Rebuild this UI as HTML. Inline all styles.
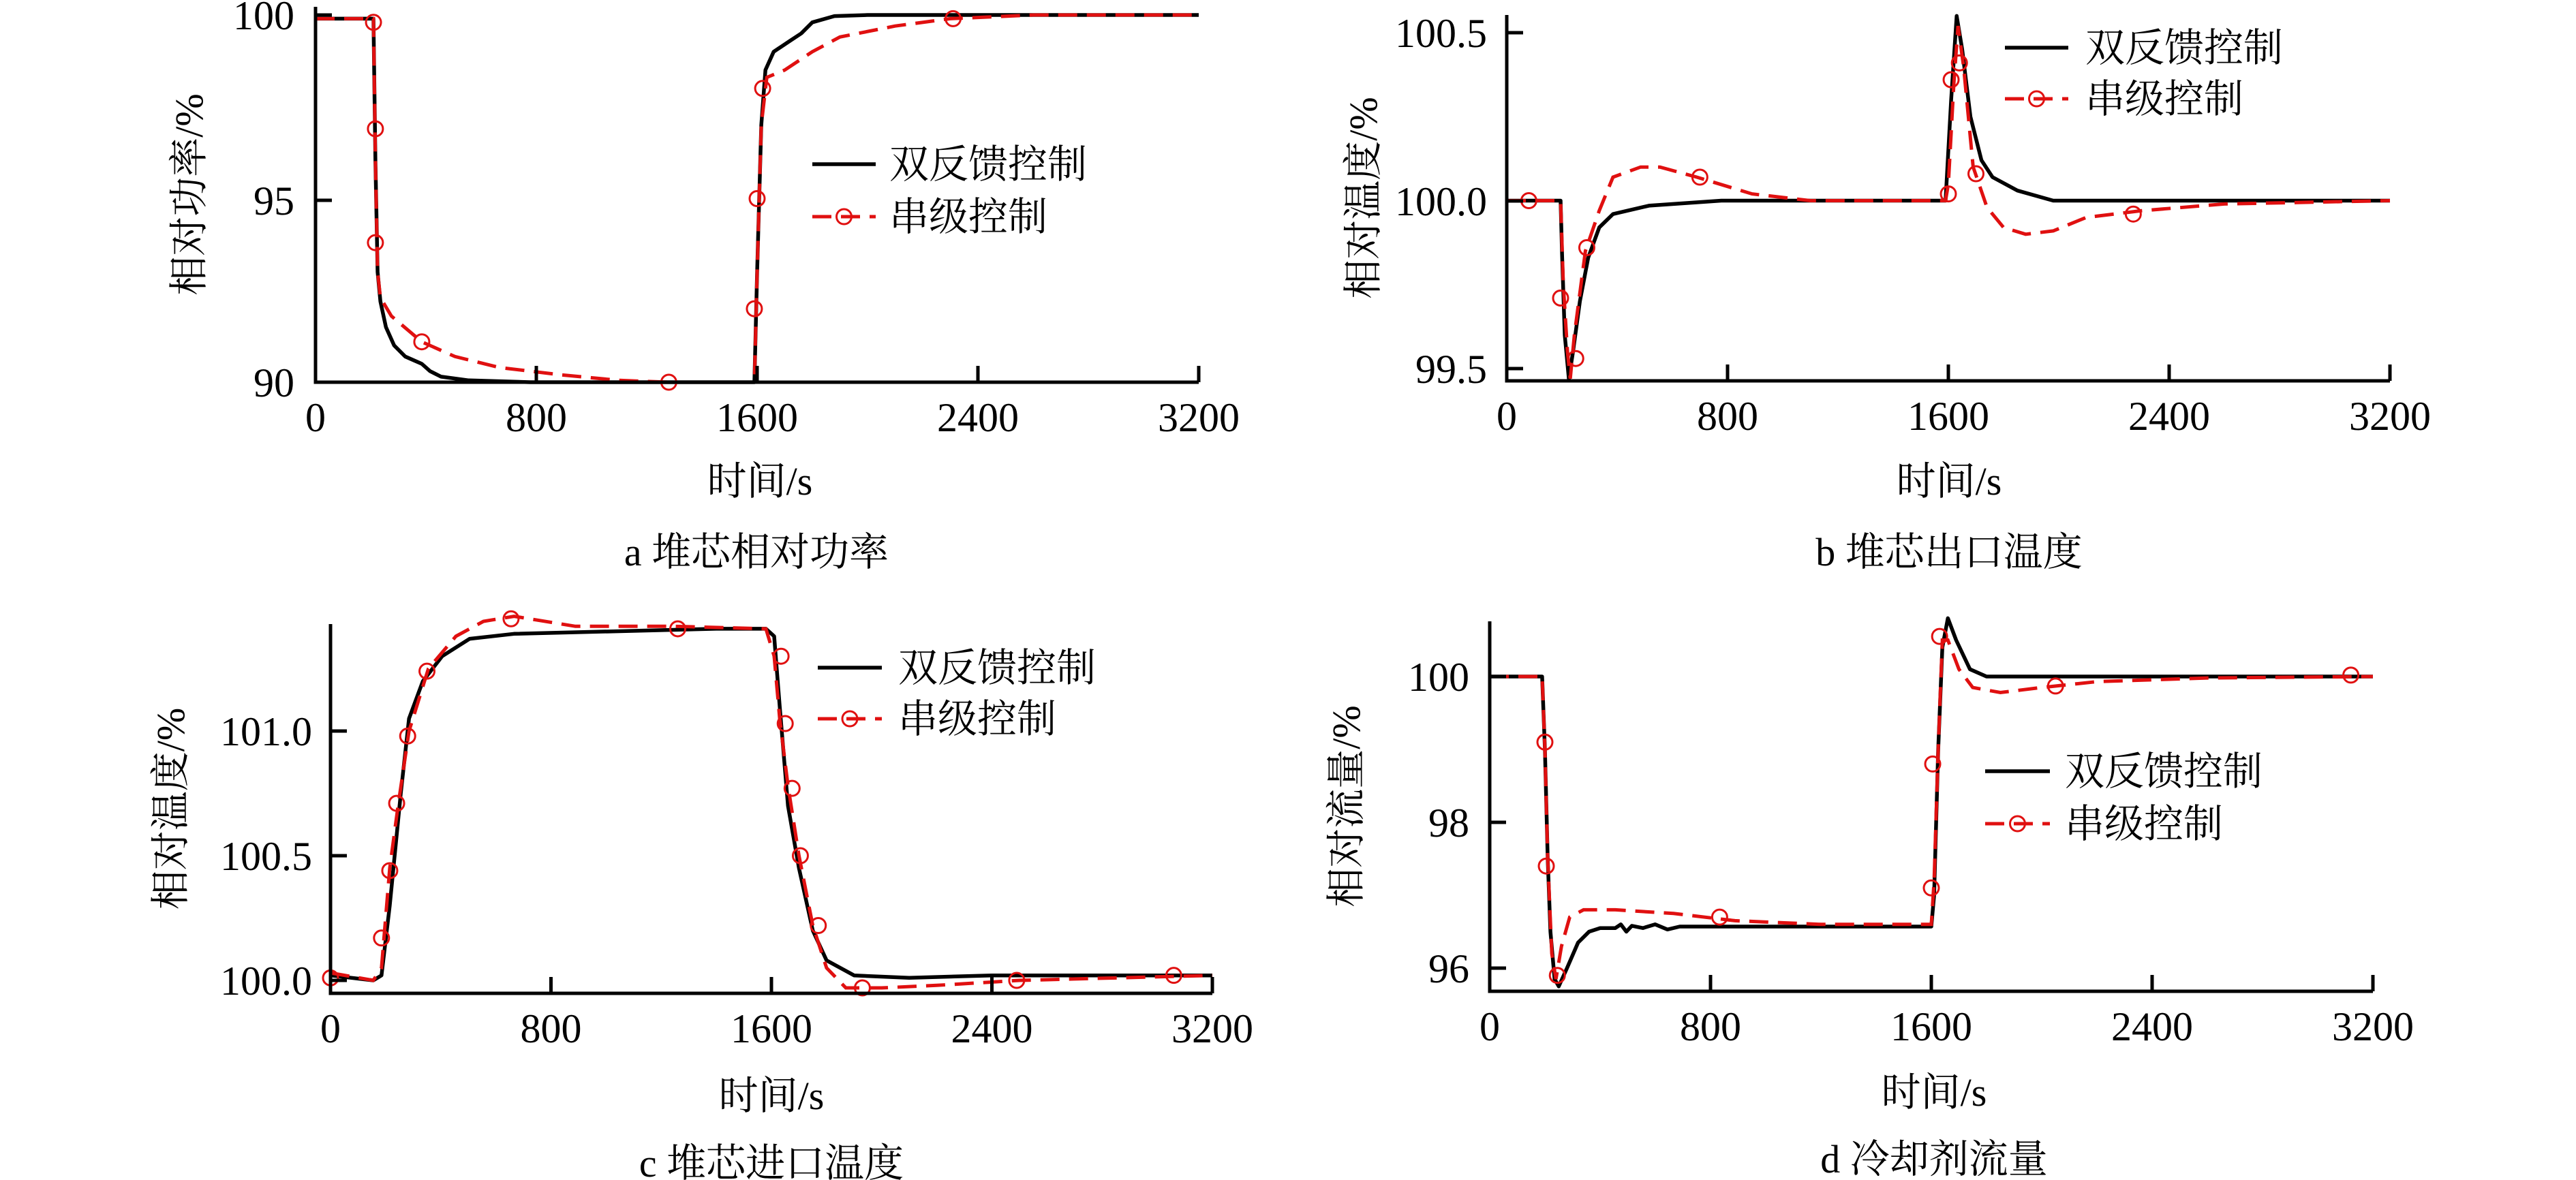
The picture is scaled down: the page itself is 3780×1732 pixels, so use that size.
<!DOCTYPE html>
<html><head><meta charset="utf-8"><style>
html,body{margin:0;padding:0;background:#fff;}
svg{display:block;}
text{font-family:"Liberation Serif","Noto Serif CJK SC","Noto Sans CJK SC",serif;fill:#000;}
</style></head><body>
<svg id="s" width="3780" height="1732" viewBox="0 0 3780 1732" xmlns="http://www.w3.org/2000/svg">
<rect width="3780" height="1732" fill="#fff"/>
</svg>
<script>
const S=document.getElementById('s');
const NS='http://www.w3.org/2000/svg';
function el(t,a,txt){const e=document.createElementNS(NS,t);for(const k in a)e.setAttribute(k,a[k]);if(txt!==undefined)e.textContent=txt;S.appendChild(e);return e;}
function sh(t){ if(t<=150||t>=1000) return t; if(t<=600) return t-45; return t-45*(1000-t)/400; }
const panels=[
{x0:463,x1:1759,yb:561,yt:10,ticks:[[100,22],[95,294],[90,561]],labels:['100','95','90'],lblEnd:432,ylab:'相对功率/%',ylx:277,xl:[1115,706],title:['a  堆芯相对功率',1110,810],leg:[1192,1285,241,318,1305],
black:[[0,99.9],[255,99.9],[262,96],[270,93],[280,92.2],[300,91.5],[330,91],[370,90.7],[400,90.6],[430,90.5],[460,90.3],[500,90.15],[600,90.05],[800,90],[1590,90],[1600,93],[1615,97],[1630,98.5],[1660,99.0],[1720,99.3],[1760,99.5],[1800,99.8],[1880,99.97],[2000,100],[3200,100]],
red:[[0,99.9],[255,99.9],[262,96],[270,93],[280,92.3],[320,91.8],[430,91.1],[550,90.7],[700,90.4],[900,90.2],[1100,90.05],[1280,90],[1590,90],[1600,93],[1615,97],[1635,98.3],[1700,98.5],[1800,99.0],[1900,99.4],[2100,99.7],[2300,99.9],[2600,100],[3200,100]],
mk:[[255,99.8],[262,96.9],[262,93.8],[430,91.1],[1280,90],[1590,92],[1600,95],[1620,98],[2310,99.9]]},
{x0:2211,x1:3507,yb:559,yt:22,ticks:[[100.5,48],[100.0,295],[99.5,541]],labels:['100.5','100.0','99.5'],lblEnd:2182,ylab:'相对温度/%',ylx:2000,xl:[2860,706],title:['b  堆芯出口温度',2860,810],leg:[2942,3035,70,145,3060],
black:[[0,100],[240,100],[245,99.85],[255,99.6],[270,99.47],[285,99.55],[310,99.7],[340,99.83],[380,99.92],[430,99.96],[560,99.985],[800,100],[1590,100],[1610,100.3],[1630,100.55],[1650,100.45],[1680,100.25],[1720,100.12],[1760,100.07],[1850,100.03],[1980,100],[3200,100]],
red:[[0,100],[240,100],[250,99.75],[265,99.55],[275,99.47],[290,99.6],[330,99.85],[380,99.97],[430,100.07],[530,100.1],[600,100.1],[720,100.07],[900,100.02],[1100,100],[1590,100],[1600,100.05],[1620,100.35],[1635,100.52],[1655,100.4],[1690,100.1],[1740,99.98],[1800,99.92],[1880,99.9],[1980,99.91],[2100,99.95],[2300,99.97],[2600,99.99],[3200,100]],
mk:[[80,100],[240,99.71],[295,99.53],[335,99.86],[730,100.07],[1600,100.02],[1610,100.36],[1640,100.41],[1700,100.08],[2270,99.96]]},
{x0:485,x1:1779,yb:1458,yt:916,ticks:[[101.0,1073],[100.5,1256],[100.0,1439]],labels:['101.0','100.5','100.0'],lblEnd:458,ylab:'相对温度/%',ylx:250,xl:[1132,1608],title:['c  堆芯进口温度',1132,1707],leg:[1200,1294,980,1055,1318],
black:[[0,100.02],[200,100.0],[230,100.02],[260,100.3],[300,100.75],[330,101.05],[380,101.2],[450,101.3],[550,101.37],[700,101.39],[1400,101.41],[1580,101.41],[1610,101.38],[1630,101.1],[1660,100.7],[1700,100.45],[1750,100.2],[1800,100.08],[1900,100.02],[2100,100.01],[2400,100.02],[3200,100.02]],
red:[[0,100.03],[200,100.0],[230,100.05],[260,100.45],[290,100.7],[330,101.0],[400,101.25],[500,101.38],[600,101.44],[700,101.46],[900,101.42],[1250,101.42],[1580,101.41],[1610,101.3],[1630,101.05],[1660,100.78],[1700,100.5],[1750,100.22],[1800,100.05],[1870,99.97],[2000,99.97],[2200,99.98],[2500,100.0],[3200,100.02]],
mk:[[0,100.01],[230,100.17],[260,100.44],[285,100.71],[325,100.98],[395,101.24],[690,101.45],[1260,101.41],[1635,101.3],[1650,101.03],[1675,100.77],[1705,100.5],[1770,100.22],[1930,99.97],[2490,100],[3060,100.02]]},
{x0:2186,x1:3482,yb:1455,yt:912,ticks:[[100,993],[98,1207],[96,1421]],labels:['100','98','96'],lblEnd:2156,ylab:'相对流量/%',ylx:1975,xl:[2838,1603],title:['d  冷却剂流量',2838,1701],leg:[2913,3008,1132,1209,3030],
black:[[0,100],[235,100],[245,99],[255,97.5],[265,96.5],[280,95.85],[295,95.75],[325,96.0],[365,96.35],[405,96.5],[445,96.55],[500,96.55],[520,96.6],[540,96.5],[560,96.58],[600,96.55],[640,96.6],[680,96.53],[720,96.57],[1600,96.57],[1610,97],[1625,99],[1640,100.4],[1660,100.8],[1690,100.5],[1740,100.1],[1800,100],[3200,100]],
red:[[0,100],[235,100],[245,99],[255,97.5],[270,96.2],[285,95.85],[305,96.3],[335,96.7],[385,96.8],[500,96.8],[700,96.75],[900,96.65],[1200,96.6],[1600,96.6],[1610,97.2],[1625,99],[1640,100.5],[1660,100.5],[1700,100.1],[1750,99.85],[1850,99.78],[2000,99.85],[2200,99.93],[2600,99.98],[3200,100]],
mk:[[245,99.1],[250,97.4],[290,95.9],[850,96.7],[1600,97.1],[1605,98.8],[1630,100.55],[2050,99.87],[3120,100.02]]}
];
for(const p of panels){
  const v0=p.ticks[0][0],p0=p.ticks[0][1],v1=p.ticks[2][0],p1=p.ticks[2][1];
  const Y=v=>p0+(v-v0)*(p1-p0)/(v1-v0);
  const X=t=>p.x0+sh(t)*(p.x1-p.x0)/3200;
  const path=a=>a.map((q,i)=>(i?'L':'M')+X(q[0]).toFixed(1)+' '+Y(q[1]).toFixed(1)).join(' ');
  el('path',{d:path(p.black),fill:'none',stroke:'#000','stroke-width':5.5,'stroke-linejoin':'round'});
  el('path',{d:path(p.red),fill:'none',stroke:'#e01010','stroke-width':5,'stroke-dasharray':'28 14'});
  for(const m of p.mk) el('circle',{cx:X(m[0]),cy:Y(m[1]),r:11,fill:'none',stroke:'#e01010','stroke-width':3});
  el('path',{d:`M${p.x0} ${p.yt} L${p.x0} ${p.yb} L${p.x1} ${p.yb}`,fill:'none',stroke:'#000','stroke-width':5});
  for(let i=0;i<3;i++){
    el('line',{x1:p.x0,x2:p.x0+24,y1:p.ticks[i][1],y2:p.ticks[i][1],stroke:'#000','stroke-width':5});
    el('text',{x:p.lblEnd,y:p.ticks[i][1]+21,'font-size':60,'text-anchor':'end'},p.labels[i]);
  }
  ['0','800','1600','2400','3200'].forEach((l,i)=>{
    const x=p.x0+i*(p.x1-p.x0)/4;
    if(i>0) el('line',{x1:x,x2:x,y1:p.yb,y2:p.yb-24,stroke:'#000','stroke-width':5});
    el('text',{x:x,y:p.yb+72,'font-size':60,'text-anchor':'middle'},l);
  });
  el('text',{x:p.xl[0],y:p.xl[1]+20,'font-size':58,'text-anchor':'middle'},'时间/s');
  el('text',{x:p.title[1],y:p.title[2]+20,'font-size':58,'text-anchor':'middle'},p.title[0]);
  const cy=(p.yt+p.yb)/2;
  el('text',{x:0,y:0,'font-size':58,'text-anchor':'middle',transform:`translate(${p.ylx+20},${cy}) rotate(-90)`},p.ylab);
  const L=p.leg;
  el('line',{x1:L[0],x2:L[1],y1:L[2],y2:L[2],stroke:'#000','stroke-width':5.5});
  el('text',{x:L[4],y:L[2]+20,'font-size':58},'双反馈控制');
  el('line',{x1:L[0],x2:L[1],y1:L[3],y2:L[3],stroke:'#e01010','stroke-width':5,'stroke-dasharray':'28 14'});
  el('circle',{cx:(L[0]+L[1])/2,cy:L[3],r:11,fill:'none',stroke:'#e01010','stroke-width':3});
  el('text',{x:L[4],y:L[3]+20,'font-size':58},'串级控制');
}
</script>
</body></html>
